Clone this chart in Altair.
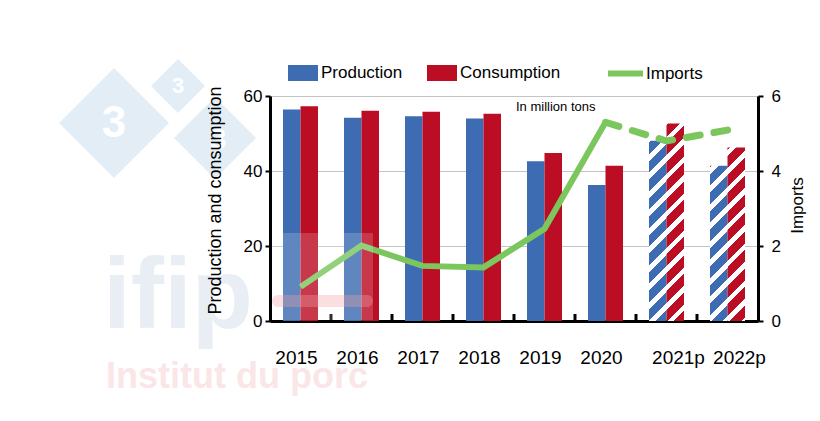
import altair as alt
import pandas as pd

# ---------------- data ----------------
years = ["2015", "2016", "2017", "2018", "2019", "2020", "2021p", "2022p"]
production = [56.4, 54.2, 54.6, 54.0, 42.6, 36.3, 48.1, 41.4]
consumption = [57.3, 56.1, 55.8, 55.3, 44.8, 41.4, 52.7, 46.3]
imports = [0.91, 2.01, 1.47, 1.43, 2.46, 5.30, 4.80, 5.09]
series = ["Production", "Consumption"]
line_label = "Imports"
note_text = "In million tons"
left_title = "Production and consumption"
right_title = "Imports"
left_ticks = [0, 20, 40, 60]
right_ticks = [0, 2, 4, 6]

# ---------------- style ----------------
BLUE = "#3d6cb3"
RED = "#bb0d24"
GREEN = "#7cc65e"
FONT = "Liberation Sans"
PLOT_W, PLOT_H = 488, 225
LEFT, TOP = 270, 96
Y_MAX = 60
BAR_W = 17.5
STEP = PLOT_W / len(years)

rows = []
for i, yr in enumerate(years):
    for s, vals in zip(series, [production, consumption]):
        rows.append({"year": yr, "series": s, "value": vals[i],
                     "forecast": yr.endswith("p")})
bars_df = pd.DataFrame(rows)
line_df = pd.DataFrame({"year": years, "imports": imports,
                        "label": line_label, "idx": list(range(len(years)))})
last_actual = max(i for i, y in enumerate(years) if not y.endswith("p"))


def hatch(color, value, band_i, series_j, period=18.5, white_frac=0.36):
    """Diagonal '/' stripes built as a hard-stop linear gradient,
    phased so that the pattern runs on across neighbouring bars."""
    h = value / Y_MAX * PLOT_H
    w = BAR_W
    x0 = band_i * STEP + (STEP - 2 * BAR_W) / 2 + series_j * BAR_W
    y0 = PLOT_H - h
    phase = (x0 + y0) % period
    a = (w + h) / (w * w + h * h)
    total = w + h
    stops = []
    s = -phase
    while s < total:
        c0 = max(s, 0) / total
        c1 = min(max(s + (1 - white_frac) * period, 0), total) / total
        c2 = min(s + period, total) / total
        stops += [{"offset": c0, "color": color}, {"offset": c1, "color": color},
                  {"offset": c1, "color": "white"}, {"offset": c2, "color": "white"}]
        s += period
    return {"gradient": "linear", "x1": 0, "y1": 0, "x2": a * w, "y2": a * h,
            "stops": stops}


x_axis = alt.Axis(title=None, domainColor="black", domainWidth=3, ticks=False,
                  labelAngle=0, labelFontSize=19, labelFont=FONT,
                  labelColor="black", labelPadding=27,
                  labelOffset={"condition": {"test": "indexof(datum.value, 'p') >= 0",
                                             "value": 12},
                               "value": -4})
x_scale = alt.Scale(domain=years, paddingInner=0, paddingOuter=0)


def x_enc(**kw):
    return alt.X("year:N", scale=x_scale, sort=years, axis=x_axis, **kw)


xo_enc = alt.XOffset("series:N", scale=alt.Scale(domain=series, paddingInner=0,
                                                  paddingOuter=0.743))
y_scale_left = alt.Scale(domain=[0, Y_MAX], nice=False)

# main left axis, drawn above the watermark
left_axis = alt.Axis(values=left_ticks, title=left_title, grid=False, zindex=1,
                     domainColor="black", domainWidth=3,
                     tickColor="black", tickWidth=2, tickSize=5,
                     labelFontSize=17, labelColor="black", labelFont=FONT,
                     labelPadding=3,
                     titleFontSize=18, titleFont=FONT, titleFontWeight="normal",
                     titleColor="black", titlePadding=19, titleLimit=600,
                     titleY=104)
# grid-only axis, behind the bars
grid_axis = alt.Axis(values=left_ticks, title=None, grid=True, zindex=0,
                     gridColor="#c4c4c4", gridWidth=1, domain=False, ticks=False,
                     labels=False)

base = alt.Chart(bars_df)

solid_bars = base.transform_filter("!datum.forecast").mark_bar().encode(
    x=x_enc(),
    xOffset=xo_enc,
    y=alt.Y("value:Q", scale=y_scale_left, axis=left_axis),
    color=alt.Color("series:N", scale=alt.Scale(domain=series, range=[BLUE, RED]),
                    legend=alt.Legend(orient="none", legendX=18, legendY=-38,
                                      direction="horizontal", title=None,
                                      symbolType="M-1,-0.533H1V0.533H-1Z",
                                      symbolSize=900, symbolStrokeWidth=0,
                                      symbolOpacity=1,
                                      labelFontSize=17, labelFont=FONT,
                                      labelColor="black", labelOffset=3,
                                      columnPadding=24)),
)

hatched_layers = []
k = 0
for i, yr in enumerate(years):
    if not yr.endswith("p"):
        continue
    for j, (s, vals, col) in enumerate(zip(series, [production, consumption],
                                           [BLUE, RED])):
        hatched_layers.append(
            base.transform_filter(
                f"datum.year == '{yr}' && datum.series == '{s}'"
            ).mark_bar(fill=hatch(col, vals[i], i, j)).encode(
                x=x_enc(),
                xOffset=xo_enc,
                y=alt.Y("value:Q", scale=y_scale_left,
                        axis=grid_axis if k == 0 else None),
            )
        )
        k += 1

# upward tick marks at category boundaries on the bottom axis
tick_df = pd.DataFrame({"year": years[1:]})
ticks = alt.Chart(tick_df).mark_rule(color="black", strokeWidth=3).encode(
    x=x_enc(bandPosition=0),
    y=alt.value(PLOT_H),
    y2=alt.value(PLOT_H - 7),
)

note = alt.Chart(pd.DataFrame({"t": [note_text]})).mark_text(
    align="left", baseline="middle", fontSize=13, font=FONT, color="black", dx=2
).encode(
    x=alt.XDatum("2019", bandPosition=0),
    y=alt.YDatum(57, axis=None),
    text="t:N",
)

bars_group = alt.layer(solid_bars, *hatched_layers, ticks, note).resolve_axis(
    y="independent")

y_right = alt.Y("imports:Q", scale=alt.Scale(domain=[0, 6], nice=False),
                axis=alt.Axis(orient="right", values=right_ticks, title=right_title,
                              grid=False, domainColor="black", domainWidth=3,
                              tickColor="black", tickWidth=2, tickSize=5,
                              labelFontSize=17, labelFont=FONT, labelColor="black",
                              labelPadding=8,
                              titleFontSize=17, titleFont=FONT,
                              titleFontWeight="normal", titleColor="black",
                              titleAngle=270, titlePadding=26, titleLimit=600,
                              titleY=109))

line_base = alt.Chart(line_df)
solid_line = line_base.transform_filter(f"datum.idx <= {last_actual}").mark_line(
    strokeWidth=6, strokeJoin="miter"
).encode(
    x=x_enc(),
    y=y_right,
    stroke=alt.Stroke("label:N", scale=alt.Scale(domain=[line_label], range=[GREEN]),
                      legend=alt.Legend(orient="none", legendX=335, legendY=-43,
                                        title=None, symbolType="stroke",
                                        symbolSize=1225, symbolStrokeWidth=6,
                                        labelFontSize=17, labelFont=FONT,
                                        labelColor="black", labelOffset=0)),
)
dashed_line = line_base.transform_filter(f"datum.idx >= {last_actual}").mark_line(
    strokeWidth=7, strokeDash=[14, 14], strokeCap="round", color=GREEN
).encode(
    x=x_enc(),
    y=alt.Y("imports:Q"),
)
lines_group = alt.layer(solid_line, dashed_line)

# ---------------- watermark (decorative) ----------------
def wm_text(txt, x, y, size, color, weight="bold", opacity=1.0):
    return alt.Chart(pd.DataFrame({"t": [txt]})).mark_text(
        align="left", baseline="alphabetic", fontSize=size, font=FONT,
        fontWeight=weight, color=color, opacity=opacity
    ).encode(x=alt.value(x - LEFT), y=alt.value(y - TOP), text="t:N")


def wm_diamond(cx, cy, half, color):
    return alt.Chart(pd.DataFrame({"t": [""]})).mark_point(
        shape="diamond", filled=True, size=(2 * half) ** 2, color=color, opacity=1
    ).encode(x=alt.value(cx - LEFT), y=alt.value(cy - TOP))


def wm_three(cx, cy, size):
    return alt.Chart(pd.DataFrame({"t": ["3"]})).mark_text(
        align="center", baseline="middle", fontSize=size, font=FONT,
        fontWeight="bold", color="white"
    ).encode(x=alt.value(cx - LEFT), y=alt.value(cy - TOP), text="t:N")


WM_BLUE = "#e2edf6"
watermark_back = [
    wm_diamond(215, 138, 41, WM_BLUE),
    wm_three(218, 140, 30),
    wm_diamond(114, 123, 55, WM_BLUE),
    wm_three(114, 124, 44),
    wm_diamond(178, 86, 27, WM_BLUE),
    wm_three(178, 86, 22),
    wm_text("ifip", 103, 328, 100, "#e8eef4"),
    wm_text("Institut du porc", 106, 388, 36, "#fbe6e7"),
]

wash = alt.Chart(pd.DataFrame({"t": [""]})).mark_rect(
    color="white", opacity=0.18
).encode(x=alt.value(272 - LEFT), x2=alt.value(373 - LEFT),
         y=alt.value(233 - TOP), y2=alt.value(320 - TOP))
pill = alt.Chart(pd.DataFrame({"t": [""]})).mark_rect(
    color="#f0a0a6", opacity=0.35, cornerRadius=6
).encode(x=alt.value(272 - LEFT), x2=alt.value(373 - LEFT),
         y=alt.value(295 - TOP), y2=alt.value(307 - TOP))

chart = alt.layer(
    *watermark_back, bars_group, lines_group, wash, pill
).resolve_scale(y="independent").properties(
    width=PLOT_W, height=PLOT_H,
    autosize="none",
    padding={"left": LEFT, "top": TOP, "right": 820 - LEFT - PLOT_W,
             "bottom": 421 - TOP - PLOT_H},
    background="white",
).configure_view(stroke=None)

chart.save("out.html", embed_options={"renderer": "svg", "actions": False})
